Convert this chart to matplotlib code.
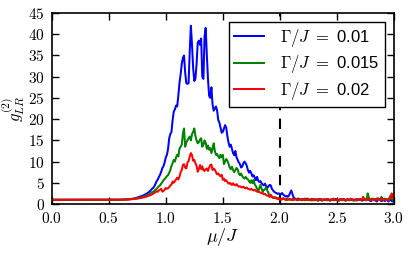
import numpy as np
import matplotlib
matplotlib.use("Agg")
import matplotlib.pyplot as plt
from matplotlib.ticker import FuncFormatter, MultipleLocator

plt.rcParams['mathtext.fontset'] = 'cm'
plt.rcParams['font.family'] = ['Liberation Sans', 'DejaVu Sans']

mu = np.round(np.arange(0, 301) * 0.01, 2)

g_blue = [
    1.0, 1.0, 1.0, 1.0, 1.0, 1.0, 1.0, 1.0, 1.0, 1.0,
    1.0, 1.0, 1.0, 1.0, 1.0, 1.0, 1.0, 1.0, 1.0, 1.0,
    1.0, 1.0, 1.0, 1.0, 1.0, 1.0, 1.0, 1.0, 1.0, 1.0,
    1.0, 1.0, 1.0, 1.0, 1.0, 1.0, 1.0, 1.0, 1.0, 1.0,
    1.0, 1.0, 1.0, 1.0, 1.0, 1.0, 1.0, 1.0, 1.0, 1.0,
    1.0, 1.0, 1.0, 1.0, 1.0, 1.0, 1.0, 1.01, 1.01, 1.02,
    1.02, 1.03, 1.04, 1.05, 1.06, 1.08, 1.10, 1.12, 1.15, 1.18,
    1.22, 1.26, 1.31, 1.37, 1.44, 1.52, 1.6, 1.7, 1.8, 1.9,
    2.0, 2.1, 2.3, 2.4, 2.6, 2.8, 3.0, 3.3, 3.6, 3.8,
    4.2, 4.8, 5.4, 5.8, 6.4, 6.9, 7.6, 8.5, 8.9, 9.8,
    11.0, 11.6, 13.0, 15.5, 16.5, 17.0, 19.8, 21.8, 22.3, 23.2,
    23.0, 25.5, 28.5, 30.5, 33.0, 34.4, 35.0, 31.0, 28.5, 28.3,
    28.5, 36.0, 42.0, 37.5, 32.0, 29.0, 29.5, 33.0, 38.0, 38.5,
    37.5, 39.0, 30.0, 29.5, 39.5, 41.5, 35.0, 29.5, 25.5, 25.0,
    27.5, 23.5, 22.0, 22.5, 23.0, 22.0, 19.8, 19.2, 18.0, 16.8,
    17.0, 17.8, 18.6, 18.0, 16.0, 14.5, 13.5, 14.0, 13.0, 12.0,
    11.5, 12.5, 11.0, 10.4, 9.8, 9.4, 8.6, 8.8, 9.6, 10.0,
    9.6, 9.0, 8.0, 7.4, 7.8, 7.2, 6.5, 6.8, 6.2, 5.6,
    6.4, 5.5, 5.2, 5.4, 4.9, 4.6, 4.4, 4.8, 4.2, 3.8,
    4.2, 4.5, 4.4, 3.6, 3.2, 2.9, 2.7, 2.6, 2.4, 2.5,
    2.4, 2.3, 2.6, 2.2, 2.0, 1.8, 1.9, 1.7, 2.0, 2.6,
    3.2, 2.4, 1.6, 1.3, 1.2, 1.1, 1.3, 1.2, 1.0, 1.1,
    1.2, 1.0, 0.9, 1.1, 1.3, 1.0, 0.9, 1.0, 1.2, 1.1,
    0.9, 1.0, 1.1, 0.8, 1.0, 1.2, 0.9, 0.8, 1.1, 1.0,
    1.0, 1.2, 0.9, 1.0, 0.8, 1.0, 1.1, 0.9, 1.0, 1.2,
    0.9, 1.0, 0.8, 1.1, 1.0, 0.9, 1.2, 1.0, 0.8, 1.0,
    1.1, 0.9, 1.0, 1.2, 0.9, 0.8, 1.0, 1.1, 0.9, 1.0,
    1.2, 1.0, 0.8, 0.9, 1.1, 1.0, 0.9, 1.3, 1.0, 0.8,
    0.7, 1.0, 1.1, 0.9, 0.8, 0.6, 1.0, 1.2, 0.9, 0.7,
    0.8, 1.0, 0.7, 0.9, 1.1, 0.6, 0.8, 1.2, 0.7, 0.6,
    0.8,
]

g_green = [
    1.0, 1.0, 1.0, 1.0, 1.0, 1.0, 1.0, 1.0, 1.0, 1.0,
    1.0, 1.0, 1.0, 1.0, 1.0, 1.0, 1.0, 1.0, 1.0, 1.0,
    1.0, 1.0, 1.0, 1.0, 1.0, 1.0, 1.0, 1.0, 1.0, 1.0,
    1.0, 1.0, 1.0, 1.0, 1.0, 1.0, 1.0, 1.0, 1.0, 1.0,
    1.0, 1.0, 1.0, 1.0, 1.0, 1.0, 1.0, 1.0, 1.0, 1.0,
    1.0, 1.0, 1.0, 1.0, 1.0, 1.0, 1.0, 1.0, 1.0, 1.01,
    1.01, 1.02, 1.03, 1.04, 1.05, 1.06, 1.08, 1.10, 1.12, 1.14,
    1.17, 1.20, 1.24, 1.28, 1.32, 1.37, 1.42, 1.48, 1.55, 1.62,
    1.7, 1.8, 1.9, 2.0, 2.1, 2.2, 2.4, 2.6, 2.8, 2.9,
    3.1, 3.4, 3.6, 3.9, 4.2, 4.4, 4.8, 5.2, 5.6, 5.9,
    6.2, 6.6, 6.8, 7.4, 8.0, 9.0, 9.6, 10.4, 10.0, 11.0,
    11.6, 11.2, 13.0, 13.5, 14.0, 16.5, 17.8, 13.5, 14.5, 15.0,
    15.5, 15.9, 15.0, 16.5, 17.0, 17.8, 16.0, 15.0, 14.3, 14.6,
    15.2, 15.5, 13.5, 14.0, 15.0, 14.4, 13.0, 13.8, 12.8, 13.2,
    12.0, 13.0, 14.3, 12.5, 11.6, 11.8, 11.2, 10.8, 11.6, 11.0,
    11.6, 9.4, 10.0, 10.6, 10.2, 9.5, 8.6, 8.2, 8.8, 8.0,
    7.5, 8.0, 8.5, 8.2, 7.2, 6.8, 7.2, 6.6, 6.2, 6.0,
    6.4, 6.0, 5.8, 5.4, 5.0, 5.6, 4.9, 5.7, 4.6, 4.2,
    3.6, 2.9, 3.8, 4.5, 3.6, 2.9, 3.3, 3.5, 3.9, 3.2,
    2.6, 1.7, 2.0, 1.8, 1.5, 1.6, 1.4, 1.5, 1.3, 1.4,
    1.2, 1.3, 1.1, 1.4, 1.2, 1.0, 1.3, 1.1, 1.2, 1.0,
    1.1, 1.2, 1.0, 1.3, 1.1, 0.9, 1.0, 1.2, 1.1, 1.0,
    0.9, 1.1, 1.3, 1.0, 0.9, 1.2, 1.0, 1.1, 0.8, 1.0,
    1.2, 0.9, 1.0, 1.1, 0.8, 1.0, 1.2, 0.9, 1.0, 1.1,
    1.0, 0.9, 1.2, 1.0, 0.8, 1.1, 1.0, 1.3, 0.9, 1.0,
    1.1, 0.8, 1.0, 1.2, 0.9, 1.0, 1.1, 0.8, 1.0, 1.2,
    0.9, 1.0, 1.3, 1.0, 0.9, 1.1, 1.0, 0.8, 1.2, 1.0,
    1.1, 0.9, 1.0, 1.2, 1.3, 1.1, 0.9, 2.5, 1.6, 1.0,
    1.1, 1.3, 0.9, 1.0, 1.2, 1.0, 1.4, 1.1, 0.9, 1.7,
    1.2, 1.0, 1.3, 0.9, 1.1, 1.0, 1.4, 2.0, 1.2, 1.0,
    1.1,
]

g_red = [
    1.0, 1.0, 1.0, 1.0, 1.0, 1.0, 1.0, 1.0, 1.0, 1.0,
    1.0, 1.0, 1.0, 1.0, 1.0, 1.0, 1.0, 1.0, 1.0, 1.0,
    1.0, 1.0, 1.0, 1.0, 1.0, 1.0, 1.0, 1.0, 1.0, 1.0,
    1.0, 1.0, 1.0, 1.0, 1.0, 1.0, 1.0, 1.0, 1.0, 1.0,
    1.0, 1.0, 1.0, 1.0, 1.0, 1.0, 1.0, 1.0, 1.0, 1.0,
    1.0, 1.0, 1.0, 1.0, 1.0, 1.0, 1.0, 1.0, 1.0, 1.0,
    1.01, 1.01, 1.02, 1.02, 1.03, 1.04, 1.05, 1.06, 1.08, 1.10,
    1.12, 1.14, 1.17, 1.20, 1.23, 1.27, 1.31, 1.36, 1.41, 1.47,
    1.53, 1.6, 1.67, 1.75, 1.84, 1.93, 2.03, 2.15, 2.3, 2.45,
    2.6, 2.8, 3.0, 2.9, 3.2, 3.4, 3.6, 2.9, 3.1, 3.4,
    3.8, 3.6, 3.7, 4.0, 4.4, 4.6, 5.3, 5.0, 5.4, 5.8,
    6.2, 5.8, 6.4, 7.5, 8.0, 9.2, 9.4, 8.6, 8.4, 9.8,
    10.1, 11.2, 12.0, 11.5, 10.2, 10.4, 9.6, 9.0, 7.6, 8.2,
    9.2, 8.2, 8.9, 8.0, 7.8, 8.2, 8.4, 7.8, 8.6, 9.2,
    9.3, 8.0, 8.4, 8.1, 7.5, 7.0, 7.2, 6.8, 6.5, 6.9,
    5.7, 6.0, 5.4, 5.6, 5.2, 4.8, 5.0, 4.7, 4.5, 4.9,
    4.5, 4.4, 4.7, 4.3, 4.1, 4.2, 4.0, 3.9, 4.1, 3.8,
    3.7, 3.9, 3.6, 3.5, 3.4, 3.6, 3.3, 3.2, 3.4, 3.1,
    2.9, 3.0, 2.8, 2.7, 2.5, 2.6, 2.3, 2.4, 2.1, 2.0,
    1.9, 1.7, 2.2, 1.6, 1.5, 1.4, 1.6, 1.3, 1.2, 1.3,
    1.0, 1.2, 1.1, 1.3, 1.2, 1.0, 0.9, 1.1, 1.0, 1.2,
    1.0, 0.9, 1.1, 1.0, 1.2, 1.0, 0.9, 1.1, 1.0, 0.9,
    1.1, 1.0, 0.9, 1.2, 1.0, 1.1, 0.9, 1.0, 1.2, 1.0,
    0.9, 1.1, 1.0, 0.9, 1.2, 1.0, 1.1, 1.0, 0.9, 1.1,
    1.0, 1.2, 0.9, 1.0, 1.1, 0.9, 1.0, 1.2, 1.0, 0.9,
    1.1, 1.0, 0.9, 1.0, 1.2, 1.0, 1.1, 0.9, 1.0, 1.1,
    1.0, 0.9, 1.1, 1.2, 1.0, 0.9, 1.0, 1.1, 1.0, 0.9,
    1.2, 1.0, 1.1, 1.7, 1.0, 0.9, 1.1, 1.0, 1.2, 1.0,
    0.9, 1.1, 1.0, 1.2, 1.0, 1.3, 1.0, 1.1, 0.9, 1.0,
    1.2, 1.0, 1.1, 1.0, 0.9, 1.2, 1.0, 1.4, 2.5, 1.5,
    2.6,
]

labels = [r'$\Gamma/J\ =\ $0.01', r'$\Gamma/J\ =\ $0.015', r'$\Gamma/J\ =\ $0.02']
colors = ['blue', 'green', 'red']
mu_c = 2.0

fig = plt.figure(figsize=(4.15, 2.56), dpi=100)
ax = fig.add_axes([0.1246, 0.203, 0.8246, 0.746])

for g, lab, c in zip([g_blue, g_green, g_red], labels, colors):
    ax.plot(mu, g, color=c, lw=1.45, label=lab)

ax.axvline(mu_c, color='black', lw=1.5, ls=(0, (5, 4)), zorder=1)

ax.set_xlim(0, 3)
ax.set_ylim(0, 45)
ax.xaxis.set_major_locator(MultipleLocator(0.5))
ax.yaxis.set_major_locator(MultipleLocator(5))
ax.xaxis.set_major_formatter(FuncFormatter(lambda v, p: r'$%.1f$' % v))
ax.yaxis.set_major_formatter(FuncFormatter(lambda v, p: r'$%d$' % round(v)))
ax.tick_params(direction='in', top=True, right=True, length=5, width=1,
               labelsize=11, pad=5)
for s in ax.spines.values():
    s.set_linewidth(1.2)

ax.set_xlabel(r'$\mu/J$', fontsize=13, labelpad=0)
ax.set_ylabel(r'$g^{(2)}_{LR}$', fontsize=12)
ax.yaxis.set_label_coords(-0.072, 0.5)

leg = ax.legend(loc='upper right', fontsize=12, fancybox=False, framealpha=1,
                edgecolor='black', borderaxespad=0.55, handlelength=1.8,
                handletextpad=1.0, labelspacing=0.25, borderpad=0.3)
leg.get_frame().set_linewidth(1.0)

fig.savefig('out.png', dpi=100, facecolor='white')
